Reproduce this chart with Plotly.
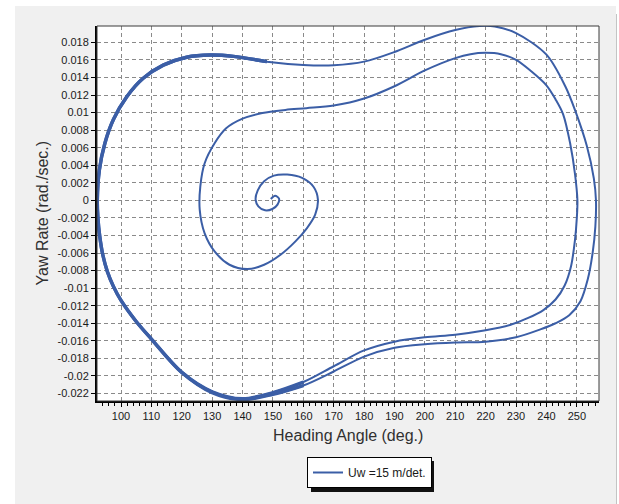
import plotly.graph_objects as go

# ---- data ----
heading = [
    149.3, 150.7, 152.0, 151.5, 149.8, 147.4, 145.2, 144.3, 145.0, 147.1,
    150.3, 154.7, 159.6, 163.4, 164.8, 163.9, 161.2, 157.4, 152.5, 147.1,
    141.6, 135.7, 130.8, 127.5, 125.9, 126.1, 127.5, 130.8, 134.6, 140.0,
    146.5, 154.1, 161.0, 170.0, 180.0, 190.0, 200.0, 210.0, 215.0, 220.0,
    225.0, 230.0, 235.0, 240.0, 243.0, 245.5, 247.8, 249.4, 250.2, 250.0,
    249.4, 248.1, 246.0, 243.0, 239.0, 234.0, 228.0, 220.0, 210.0, 200.0,
    190.0, 180.0, 170.0, 160.0, 150.0, 140.0, 130.0, 120.0, 110.0, 105.0,
    100.0, 97.5, 95.5, 94.0, 93.0, 92.4, 92.2, 92.9, 94.7, 97.5,
    101.9, 107.3, 113.9, 121.6, 129.3, 137.0, 148.0, 160.0, 170.0, 180.0,
    190.0, 200.0, 210.0, 218.0, 223.0, 230.0, 240.0, 246.2, 249.5, 253.3,
    255.6, 256.3, 256.1, 255.2, 253.6, 251.2, 247.5, 243.0, 238.0, 230.0,
    220.0, 210.0, 200.0, 190.0, 180.0, 170.0, 160.0, 150.0, 140.0, 130.0,
    120.0, 110.0, 105.0, 100.0, 97.5, 95.5, 94.0, 93.0, 92.4, 92.2,
    92.9, 94.7, 97.5, 101.9, 107.3, 113.9, 121.6, 129.3, 137.0, 148.0,
]
yaw_rate = [
    0.00015, 0.00053, 0.00019, -0.00049, -0.00099, -0.00114, -0.00068, 0.00008, 0.00114, 0.00217,
    0.00281, 0.00293, 0.00255, 0.00152, 0.00008, -0.00163, -0.00316, -0.00468, -0.00620, -0.00734,
    -0.00783, -0.00734, -0.00582, -0.00373, -0.00106, 0.00160, 0.00420, 0.00650, 0.00820, 0.00930,
    0.00995, 0.01030, 0.01050, 0.01080, 0.01160, 0.01300, 0.01480, 0.01620, 0.01665, 0.01680,
    0.01665, 0.01600, 0.01470, 0.01310, 0.01150, 0.00980, 0.00650, 0.00300, 0.00000, -0.00200,
    -0.00450, -0.00750, -0.00970, -0.01130, -0.01250, -0.01340, -0.01420, -0.01480, -0.01530, -0.01560,
    -0.01610, -0.01710, -0.01890, -0.02070, -0.02190, -0.02260, -0.02180, -0.01960, -0.01580, -0.01380,
    -0.01140, -0.00980, -0.00810, -0.00620, -0.00410, -0.00200, 0.00000, 0.00350, 0.00650, 0.00920,
    0.01180, 0.01390, 0.01540, 0.01630, 0.01655, 0.01640, 0.01580, 0.01543, 0.01540, 0.01580,
    0.01690, 0.01830, 0.01940, 0.01985, 0.01980, 0.01905, 0.01660, 0.01300, 0.01020, 0.00620,
    0.00250, 0.00000, -0.00300, -0.00600, -0.00900, -0.01150, -0.01310, -0.01400, -0.01470, -0.01560,
    -0.01610, -0.01620, -0.01640, -0.01680, -0.01780, -0.01950, -0.02110, -0.02210, -0.02270, -0.02190,
    -0.01960, -0.01580, -0.01380, -0.01140, -0.00980, -0.00810, -0.00620, -0.00410, -0.00200, 0.00000,
    0.00350, 0.00650, 0.00920, 0.01180, 0.01390, 0.01540, 0.01630, 0.01655, 0.01640, 0.01580,
]
series_name = "Uw =15 m/det."

x_ticks = [100, 110, 120, 130, 140, 150, 160, 170, 180, 190, 200, 210, 220, 230, 240, 250]
y_ticks = [-0.022, -0.020, -0.018, -0.016, -0.014, -0.012, -0.010, -0.008, -0.006, -0.004,
           -0.002, 0.0, 0.002, 0.004, 0.006, 0.008, 0.010, 0.012, 0.014, 0.016, 0.018]
y_tick_labels = ["-0.022", "-0.02", "-0.018", "-0.016", "-0.014", "-0.012", "-0.01", "-0.008",
                 "-0.006", "-0.004", "-0.002", "0", "0.002", "0.004", "0.006", "0.008",
                 "0.01", "0.012", "0.014", "0.016", "0.018"]

x_title = "Heading Angle (deg.)"
y_title = "Yaw Rate (rad./sec.)"

LINE = "#3b5ea6"
FONT = "Liberation Sans, Arial, sans-serif"

# ---- figure geometry (pixels) ----
W, H = 619, 504
L, R, T, B = 97, 20, 26, 103
PW, PH = W - L - R, H - T - B


def px(xp):
    return (xp - L) / PW


def py(yp):
    return (H - B - yp) / PH


fig = go.Figure()
fig.add_trace(go.Scatter(
    x=heading, y=yaw_rate, mode="lines", name=series_name,
    line=dict(color=LINE, width=2, shape="spline", smoothing=0.9), showlegend=True,
))
# the limit cycle is traced repeatedly on the left side -> thicker stroke
first_pass = (63, 87)
last_pass = (116, len(heading))
for a, b in [first_pass, last_pass]:
    fig.add_trace(go.Scatter(
        x=heading[a:b], y=yaw_rate[a:b], mode="lines",
        line=dict(color=LINE, width=3.4, shape="spline", smoothing=0.9),
        showlegend=False, hoverinfo="skip",
    ))

shapes = [
    # gray window panel
    dict(type="rect", xref="paper", yref="paper", x0=px(15), x1=px(616), y0=py(504), y1=py(6),
         fillcolor="#f0f0f0", line=dict(width=0), layer="below"),
    dict(type="line", xref="paper", yref="paper", x0=px(616.5), x1=px(616.5), y0=py(504), y1=py(14),
         line=dict(color="#c4c4c4", width=1), layer="below"),
    # white plot area
    dict(type="rect", xref="paper", yref="paper", x0=0, x1=1, y0=0, y1=1,
         fillcolor="white", line=dict(width=0), layer="below"),
    # legend drop shadow
    dict(type="rect", xref="paper", yref="paper", x0=px(311), x1=px(434), y0=py(492), y1=py(461),
         fillcolor="#111111", line=dict(width=0), layer="below"),
    # plot frame (top/right)
    dict(type="rect", xref="paper", yref="paper", x0=0, x1=1, y0=0, y1=1,
         line=dict(color="#3a3a3a", width=1), layer="above"),
]

annotations = [
    dict(text=x_title, xref="paper", yref="paper", x=0.5, y=py(435), xanchor="center", yanchor="middle",
         showarrow=False, font=dict(family=FONT, size=16, color="#303030")),
    dict(text=y_title, xref="paper", yref="paper", x=px(42), y=0.5, xanchor="center", yanchor="middle",
         textangle=-90, showarrow=False, font=dict(family=FONT, size=16, color="#303030")),
]

fig.update_layout(
    width=W, height=H,
    margin=dict(l=L, r=R, t=T, b=B, pad=0),
    paper_bgcolor="white", plot_bgcolor="rgba(0,0,0,0)",
    font=dict(family=FONT, size=11, color="#1a1a1a"),
    shapes=shapes, annotations=annotations,
    legend=dict(x=px(307), y=py(457), xanchor="left", yanchor="top",
                bgcolor="white", bordercolor="black", borderwidth=1,
                font=dict(family=FONT, size=12, color="#1a1a1a")),
    showlegend=True,
)
fig.update_xaxes(
    range=[92.1, 257.3], tickmode="array", tickvals=x_ticks,
    ticks="outside", ticklen=4, tickwidth=1, tickcolor="black",
    showline=True, linecolor="black", linewidth=2,
    showgrid=True, gridcolor="#8a8a8a", gridwidth=1, griddash="4px,3px",
    zeroline=False, tickfont=dict(family=FONT, size=11, color="#1a1a1a"),
    minor=dict(dtick=2, tick0=100, ticks="outside", ticklen=3, tickcolor="black", showgrid=False),
)
fig.update_yaxes(
    range=[-0.02286, 0.01986], tickmode="array", tickvals=y_ticks, ticktext=y_tick_labels,
    ticks="outside", ticklen=4, tickwidth=1, tickcolor="black",
    showline=True, linecolor="black", linewidth=2,
    showgrid=True, gridcolor="#8a8a8a", gridwidth=1, griddash="4px,3px",
    zeroline=False, tickfont=dict(family=FONT, size=11, color="#1a1a1a"),
)

fig.write_html("out.html")
